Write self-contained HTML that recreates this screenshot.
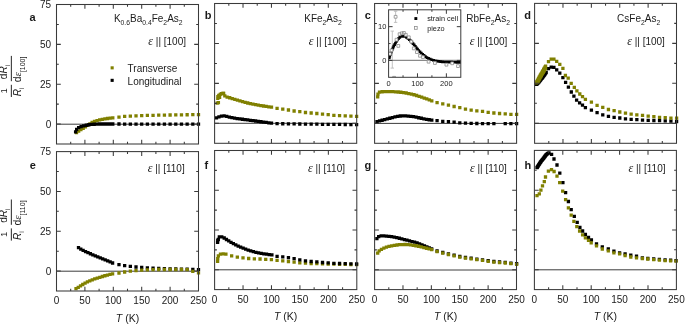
<!DOCTYPE html>
<html><head><meta charset="utf-8"><style>
html,body{margin:0;padding:0;background:#fff;}
body{width:685px;height:324px;overflow:hidden;}
svg{display:block;will-change:transform;}
</style></head><body>
<svg width="685" height="324" viewBox="0 0 685 324" font-family="Liberation Sans, sans-serif" fill="#1a1a1a">
<rect width="685" height="324" fill="#fff"/>
<line x1="56.5" y1="124.2" x2="198.5" y2="124.2" stroke="#3c3c3c" stroke-width="1"/>
<line x1="214.6" y1="123.3" x2="356.7" y2="123.3" stroke="#3c3c3c" stroke-width="1"/>
<line x1="374.6" y1="123.4" x2="516.6" y2="123.4" stroke="#3c3c3c" stroke-width="1"/>
<line x1="534.6" y1="123.4" x2="676.5" y2="123.4" stroke="#3c3c3c" stroke-width="1"/>
<line x1="56.5" y1="271.2" x2="198.5" y2="271.2" stroke="#3c3c3c" stroke-width="1"/>
<line x1="214.6" y1="269.8" x2="356.8" y2="269.8" stroke="#3c3c3c" stroke-width="1"/>
<line x1="374.6" y1="270" x2="516.5" y2="270" stroke="#3c3c3c" stroke-width="1"/>
<line x1="534.4" y1="269.8" x2="676.4" y2="269.8" stroke="#3c3c3c" stroke-width="1"/>
<path fill="#808000" d="M74.85 130.95h3.3v3.3h-3.3zM77.02 129.4h3.3v3.3h-3.3zM79.26 127.98h3.3v3.3h-3.3zM81.54 126.59h3.3v3.3h-3.3zM83.79 125.16h3.3v3.3h-3.3zM85.98 123.65h3.3v3.3h-3.3zM88.22 122.21h3.3v3.3h-3.3zM90.48 120.81h3.3v3.3h-3.3zM92.86 119.63h3.3v3.3h-3.3zM95.42 118.88h3.3v3.3h-3.3zM98.02 118.32h3.3v3.3h-3.3zM100.63 117.76h3.3v3.3h-3.3zM103.24 117.27h3.3v3.3h-3.3zM105.87 116.84h3.3v3.3h-3.3zM108.51 116.47h3.3v3.3h-3.3zM111.15 116.15h3.3v3.3h-3.3z"/>
<path fill="#808000" d="M117.33 115.45h3.3v3.3h-3.3zM123.01 114.75h3.3v3.3h-3.3zM128.69 114.4h3.3v3.3h-3.3zM134.37 114.14h3.3v3.3h-3.3zM140.05 113.95h3.3v3.3h-3.3zM145.73 113.79h3.3v3.3h-3.3zM151.41 113.66h3.3v3.3h-3.3zM157.09 113.55h3.3v3.3h-3.3zM162.77 113.45h3.3v3.3h-3.3zM168.45 113.35h3.3v3.3h-3.3zM174.13 113.26h3.3v3.3h-3.3zM179.81 113.17h3.3v3.3h-3.3zM185.49 113.09h3.3v3.3h-3.3zM191.17 113.01h3.3v3.3h-3.3zM196.85 112.95h3.3v3.3h-3.3z"/>
<path fill="#000" d="M73.95 130.15h3.3v3.3h-3.3zM75.02 127.72h3.3v3.3h-3.3zM77 125.99h3.3v3.3h-3.3zM79.45 124.93h3.3v3.3h-3.3zM82 124.17h3.3v3.3h-3.3zM84.59 123.58h3.3v3.3h-3.3zM87.21 123.1h3.3v3.3h-3.3zM89.86 122.8h3.3v3.3h-3.3zM92.51 122.6h3.3v3.3h-3.3zM95.17 122.45h3.3v3.3h-3.3zM97.83 122.35h3.3v3.3h-3.3zM100.5 122.35h3.3v3.3h-3.3zM103.16 122.35h3.3v3.3h-3.3zM105.82 122.35h3.3v3.3h-3.3zM108.49 122.35h3.3v3.3h-3.3zM111.15 122.35h3.3v3.3h-3.3z"/>
<path fill="#000" d="M117.33 122.36h3.3v3.3h-3.3zM123.01 122.38h3.3v3.3h-3.3zM128.69 122.39h3.3v3.3h-3.3zM134.37 122.4h3.3v3.3h-3.3zM140.05 122.42h3.3v3.3h-3.3zM145.73 122.43h3.3v3.3h-3.3zM151.41 122.44h3.3v3.3h-3.3zM157.09 122.46h3.3v3.3h-3.3zM162.77 122.47h3.3v3.3h-3.3zM168.45 122.48h3.3v3.3h-3.3zM174.13 122.5h3.3v3.3h-3.3zM179.81 122.51h3.3v3.3h-3.3zM185.49 122.52h3.3v3.3h-3.3zM191.17 122.54h3.3v3.3h-3.3zM196.85 122.55h3.3v3.3h-3.3z"/>
<path fill="#808000" d="M215.55 101.45h3.3v3.3h-3.3zM216.75 100.95h3.3v3.3h-3.3zM216.15 96.75h3.3v3.3h-3.3zM216.25 94.95h3.3v3.3h-3.3zM217.15 93.75h3.3v3.3h-3.3zM217.95 95.75h3.3v3.3h-3.3zM218.55 92.65h3.3v3.3h-3.3zM219.75 91.95h3.3v3.3h-3.3zM220.95 91.65h3.3v3.3h-3.3zM221.85 91.85h3.3v3.3h-3.3z"/>
<path fill="#808000" d="M221.85 91.85h3.3v3.3h-3.3zM223.16 94.17h3.3v3.3h-3.3zM225.49 95.39h3.3v3.3h-3.3zM228.07 96.12h3.3v3.3h-3.3zM230.62 96.96h3.3v3.3h-3.3zM233.17 97.79h3.3v3.3h-3.3zM235.74 98.56h3.3v3.3h-3.3zM238.31 99.3h3.3v3.3h-3.3zM240.9 100.01h3.3v3.3h-3.3zM243.5 100.69h3.3v3.3h-3.3zM246.1 101.34h3.3v3.3h-3.3zM248.7 101.96h3.3v3.3h-3.3zM251.32 102.54h3.3v3.3h-3.3zM253.95 103.06h3.3v3.3h-3.3zM256.6 103.51h3.3v3.3h-3.3zM259.25 103.93h3.3v3.3h-3.3zM261.9 104.33h3.3v3.3h-3.3zM264.55 104.74h3.3v3.3h-3.3zM267.2 105.15h3.3v3.3h-3.3zM269.85 105.55h3.3v3.3h-3.3z"/>
<path fill="#808000" d="M275.43 106.65h3.3v3.3h-3.3zM281.11 107.45h3.3v3.3h-3.3zM286.79 108.35h3.3v3.3h-3.3zM292.47 109.35h3.3v3.3h-3.3zM298.15 109.95h3.3v3.3h-3.3zM303.83 110.85h3.3v3.3h-3.3zM309.51 111.35h3.3v3.3h-3.3zM315.19 111.85h3.3v3.3h-3.3zM320.87 112.45h3.3v3.3h-3.3zM326.55 113.05h3.3v3.3h-3.3zM332.23 113.65h3.3v3.3h-3.3zM337.91 113.95h3.3v3.3h-3.3zM343.59 114.15h3.3v3.3h-3.3zM349.27 114.55h3.3v3.3h-3.3zM354.95 114.65h3.3v3.3h-3.3z"/>
<path fill="#000" d="M214.85 116.25h3.3v3.3h-3.3zM217.28 115.17h3.3v3.3h-3.3zM219.84 114.44h3.3v3.3h-3.3zM222.48 114.21h3.3v3.3h-3.3zM225.09 114.71h3.3v3.3h-3.3zM227.67 115.39h3.3v3.3h-3.3zM230.27 115.97h3.3v3.3h-3.3zM232.89 116.47h3.3v3.3h-3.3zM235.52 116.89h3.3v3.3h-3.3zM238.15 117.27h3.3v3.3h-3.3zM240.8 117.61h3.3v3.3h-3.3zM243.44 117.96h3.3v3.3h-3.3zM246.08 118.31h3.3v3.3h-3.3zM248.72 118.65h3.3v3.3h-3.3zM251.36 118.99h3.3v3.3h-3.3zM254.01 119.34h3.3v3.3h-3.3zM256.64 119.71h3.3v3.3h-3.3zM259.28 120.09h3.3v3.3h-3.3zM261.92 120.46h3.3v3.3h-3.3zM264.56 120.81h3.3v3.3h-3.3zM267.2 121.14h3.3v3.3h-3.3zM269.85 121.45h3.3v3.3h-3.3z"/>
<path fill="#000" d="M275.43 121.95h3.3v3.3h-3.3zM281.11 122.11h3.3v3.3h-3.3zM286.79 122.21h3.3v3.3h-3.3zM292.47 122.28h3.3v3.3h-3.3zM298.15 122.35h3.3v3.3h-3.3zM303.83 122.43h3.3v3.3h-3.3zM309.51 122.5h3.3v3.3h-3.3zM315.19 122.57h3.3v3.3h-3.3zM320.87 122.64h3.3v3.3h-3.3zM326.55 122.71h3.3v3.3h-3.3zM332.23 122.77h3.3v3.3h-3.3zM337.91 122.82h3.3v3.3h-3.3zM343.59 122.87h3.3v3.3h-3.3zM349.27 122.91h3.3v3.3h-3.3zM354.95 122.95h3.3v3.3h-3.3z"/>
<path fill="#808000" d="M376.05 95.15h3.3v3.3h-3.3zM376.33 92.49h3.3v3.3h-3.3zM377.83 90.47h3.3v3.3h-3.3zM380.47 90.09h3.3v3.3h-3.3zM383.15 89.99h3.3v3.3h-3.3zM385.83 89.95h3.3v3.3h-3.3zM388.51 89.97h3.3v3.3h-3.3zM391.19 90.06h3.3v3.3h-3.3zM393.87 90.17h3.3v3.3h-3.3zM396.55 90.35h3.3v3.3h-3.3zM399.22 90.59h3.3v3.3h-3.3zM401.89 90.9h3.3v3.3h-3.3zM404.53 91.35h3.3v3.3h-3.3zM407.15 91.89h3.3v3.3h-3.3zM409.77 92.47h3.3v3.3h-3.3zM412.38 93.12h3.3v3.3h-3.3zM414.96 93.84h3.3v3.3h-3.3zM417.52 94.66h3.3v3.3h-3.3zM420.05 95.54h3.3v3.3h-3.3zM422.58 96.43h3.3v3.3h-3.3zM425.11 97.32h3.3v3.3h-3.3zM427.63 98.23h3.3v3.3h-3.3zM430.15 99.15h3.3v3.3h-3.3z"/>
<path fill="#808000" d="M435.43 101.05h3.3v3.3h-3.3zM441.11 102.25h3.3v3.3h-3.3zM446.79 103.45h3.3v3.3h-3.3zM452.47 104.85h3.3v3.3h-3.3zM458.15 106.05h3.3v3.3h-3.3zM463.83 107.55h3.3v3.3h-3.3zM469.51 108.45h3.3v3.3h-3.3zM475.19 109.15h3.3v3.3h-3.3zM480.87 109.75h3.3v3.3h-3.3zM486.55 110.65h3.3v3.3h-3.3zM492.23 111.35h3.3v3.3h-3.3zM497.91 111.85h3.3v3.3h-3.3zM503.59 112.25h3.3v3.3h-3.3zM509.27 112.75h3.3v3.3h-3.3zM514.95 112.75h3.3v3.3h-3.3z"/>
<path fill="#000" d="M375.35 120.05h3.3v3.3h-3.3zM377.9 119.28h3.3v3.3h-3.3zM380.47 118.59h3.3v3.3h-3.3zM383.05 117.93h3.3v3.3h-3.3zM385.62 117.26h3.3v3.3h-3.3zM388.2 116.59h3.3v3.3h-3.3zM390.76 115.88h3.3v3.3h-3.3zM393.35 115.25h3.3v3.3h-3.3zM395.97 114.76h3.3v3.3h-3.3zM398.6 114.35h3.3v3.3h-3.3zM401.25 114.15h3.3v3.3h-3.3zM403.91 114.21h3.3v3.3h-3.3zM406.57 114.4h3.3v3.3h-3.3zM409.22 114.64h3.3v3.3h-3.3zM411.84 115.07h3.3v3.3h-3.3zM414.46 115.57h3.3v3.3h-3.3zM417.07 116.08h3.3v3.3h-3.3zM419.68 116.62h3.3v3.3h-3.3zM422.29 117.14h3.3v3.3h-3.3zM424.91 117.63h3.3v3.3h-3.3zM427.53 118.1h3.3v3.3h-3.3zM430.15 118.55h3.3v3.3h-3.3z"/>
<path fill="#000" d="M435.43 119.05h3.3v3.3h-3.3zM441.11 119.65h3.3v3.3h-3.3zM446.79 119.95h3.3v3.3h-3.3zM452.47 120.55h3.3v3.3h-3.3zM458.15 121.15h3.3v3.3h-3.3zM463.83 121.45h3.3v3.3h-3.3zM469.51 121.75h3.3v3.3h-3.3zM475.19 121.83h3.3v3.3h-3.3zM480.87 121.89h3.3v3.3h-3.3zM486.55 121.94h3.3v3.3h-3.3zM492.23 121.98h3.3v3.3h-3.3zM503.59 122.03h3.3v3.3h-3.3zM509.27 122.05h3.3v3.3h-3.3zM514.95 122.05h3.3v3.3h-3.3z"/>
<defs><clipPath id="ic"><rect x="388.6" y="9.8" width="72.2" height="67.5"/></clipPath></defs>
<rect x="388.6" y="9.8" width="72.2" height="67.5" fill="#fff"/>
<g clip-path="url(#ic)">
<line x1="388.6" y1="60.42" x2="460.8" y2="60.42" stroke="#8a8a8a" stroke-width="1.1"/>
<path fill="none" stroke="#b4b4b4" stroke-width="0.8" d="M395.6 11.3V22.4M393.9 11.3h3.4M393.9 22.4h3.4M392.3 31.1V68.1M390.6 31.1h3.4M390.6 68.1h3.4"/>
<path fill="#000" d="M387.95 56.65h2.7v2.7h-2.7zM388.41 54.91h2.7v2.7h-2.7zM388.95 53.19h2.7v2.7h-2.7zM389.56 51.49h2.7v2.7h-2.7zM390.21 49.81h2.7v2.7h-2.7zM390.89 48.14h2.7v2.7h-2.7zM391.62 46.49h2.7v2.7h-2.7zM392.39 44.86h2.7v2.7h-2.7zM393.23 43.26h2.7v2.7h-2.7zM394.12 41.69h2.7v2.7h-2.7zM395.08 40.16h2.7v2.7h-2.7zM396.07 38.66h2.7v2.7h-2.7zM397.11 37.19h2.7v2.7h-2.7zM398.44 35.98h2.7v2.7h-2.7zM400.01 35.11h2.7v2.7h-2.7zM401.8 34.98h2.7v2.7h-2.7zM403.59 35.17h2.7v2.7h-2.7zM405.17 36.02h2.7v2.7h-2.7zM406.6 37.11h2.7v2.7h-2.7zM407.96 38.29h2.7v2.7h-2.7zM409.25 39.55h2.7v2.7h-2.7zM410.5 40.86h2.7v2.7h-2.7zM411.68 42.22h2.7v2.7h-2.7zM412.84 43.6h2.7v2.7h-2.7zM413.97 45.01h2.7v2.7h-2.7zM415.05 46.45h2.7v2.7h-2.7zM416.17 47.87h2.7v2.7h-2.7zM417.37 49.21h2.7v2.7h-2.7zM418.65 50.49h2.7v2.7h-2.7zM419.97 51.71h2.7v2.7h-2.7zM421.31 52.92h2.7v2.7h-2.7zM422.66 54.11h2.7v2.7h-2.7zM424.09 55.21h2.7v2.7h-2.7zM425.61 56.18h2.7v2.7h-2.7zM427.2 57.04h2.7v2.7h-2.7zM428.85 57.77h2.7v2.7h-2.7zM430.54 58.4h2.7v2.7h-2.7zM432.26 58.93h2.7v2.7h-2.7zM434 59.41h2.7v2.7h-2.7zM435.76 59.8h2.7v2.7h-2.7zM437.54 60.07h2.7v2.7h-2.7zM439.33 60.29h2.7v2.7h-2.7zM441.13 60.48h2.7v2.7h-2.7zM442.92 60.63h2.7v2.7h-2.7zM444.72 60.73h2.7v2.7h-2.7zM446.53 60.78h2.7v2.7h-2.7zM448.33 60.82h2.7v2.7h-2.7zM450.13 60.86h2.7v2.7h-2.7zM451.94 60.89h2.7v2.7h-2.7zM453.74 60.92h2.7v2.7h-2.7zM455.54 60.93h2.7v2.7h-2.7zM457.35 60.95h2.7v2.7h-2.7zM459.15 60.95h2.7v2.7h-2.7z"/>
<path fill="#fff" stroke="#8c8c8c" stroke-width="0.8" d="M388.5 52.5h2.8v2.8h-2.8zM390.1 49h2.8v2.8h-2.8zM395.1 38.3h2.8v2.8h-2.8zM396.9 44.5h2.8v2.8h-2.8zM398.2 32.8h2.8v2.8h-2.8zM400.4 31.9h2.8v2.8h-2.8zM402.5 31.5h2.8v2.8h-2.8zM404.4 33.4h2.8v2.8h-2.8zM407.4 35.9h2.8v2.8h-2.8zM409.9 40.2h2.8v2.8h-2.8zM412.4 47h2.8v2.8h-2.8zM415.5 50.7h2.8v2.8h-2.8zM418.6 54.4h2.8v2.8h-2.8zM421.6 55.8h2.8v2.8h-2.8zM427.2 60.3h2.8v2.8h-2.8zM433.5 61.6h2.8v2.8h-2.8zM445 63.3h2.8v2.8h-2.8zM450.8 61.9h2.8v2.8h-2.8zM456.6 64.7h2.8v2.8h-2.8zM394.2 15.4h2.8v2.8h-2.8zM392.7 76.4h2.8v2.8h-2.8z"/>
</g>
<path fill="none" stroke="#3a3a3a" stroke-width="1.0" d="M403.04 9.8v2M403.04 77.3v-2M417.48 9.8v4M417.48 77.3v-4M431.92 9.8v2M431.92 77.3v-2M446.36 9.8v4M446.36 77.3v-4M388.6 60.42h4M460.8 60.42h-4M388.6 43.55h2M460.8 43.55h-2M388.6 26.67h4M460.8 26.67h-4"/>
<rect x="388.6" y="9.8" width="72.2" height="67.5" fill="none" stroke="#3a3a3a" stroke-width="1.0"/>
<rect x="414.4" y="17.1" width="2.9" height="2.9" fill="#000"/>
<rect x="414.4" y="26.5" width="2.8" height="2.8" fill="#fff" stroke="#8c8c8c" stroke-width="0.8"/>
<text x="427.2" y="20.9" font-size="7.3" text-anchor="start" font-weight="normal">strain cell</text>
<text x="427.2" y="30.7" font-size="7.3" text-anchor="start" font-weight="normal">piezo</text>
<text x="386.4" y="29.1" font-size="7.5" text-anchor="end" font-weight="normal">10</text>
<text x="386.4" y="63.4" font-size="7.5" text-anchor="end" font-weight="normal">0</text>
<text x="388.6" y="86" font-size="7.5" text-anchor="middle" font-weight="normal">0</text>
<text x="417.48" y="86" font-size="7.5" text-anchor="middle" font-weight="normal">100</text>
<text x="446.36" y="86" font-size="7.5" text-anchor="middle" font-weight="normal">200</text>
<path fill="#000" d="M534.85 82.75h3.3v3.3h-3.3zM535.54 82.16h3.3v3.3h-3.3zM536.2 81.52h3.3v3.3h-3.3zM536.84 80.86h3.3v3.3h-3.3zM537.43 80.17h3.3v3.3h-3.3zM538 79.45h3.3v3.3h-3.3zM538.56 78.72h3.3v3.3h-3.3zM539.12 78.01h3.3v3.3h-3.3zM539.7 77.3h3.3v3.3h-3.3zM540.27 76.58h3.3v3.3h-3.3zM540.84 75.86h3.3v3.3h-3.3zM541.39 75.14h3.3v3.3h-3.3zM541.94 74.41h3.3v3.3h-3.3zM542.48 73.67h3.3v3.3h-3.3zM543.01 72.92h3.3v3.3h-3.3zM543.53 72.17h3.3v3.3h-3.3zM544.05 71.41h3.3v3.3h-3.3zM544.55 70.65h3.3v3.3h-3.3zM546.85 67.05h3.3v3.3h-3.3zM549.55 65.45h3.3v3.3h-3.3zM552.25 65.75h3.3v3.3h-3.3zM555.05 68.25h3.3v3.3h-3.3zM558.15 71.55h3.3v3.3h-3.3zM561.25 76.05h3.3v3.3h-3.3zM563.95 80.65h3.3v3.3h-3.3zM566.75 85.55h3.3v3.3h-3.3zM569.65 90.35h3.3v3.3h-3.3zM572.25 94.55h3.3v3.3h-3.3zM574.95 98.45h3.3v3.3h-3.3zM577.95 101.25h3.3v3.3h-3.3zM580.85 103.55h3.3v3.3h-3.3zM583.75 105.95h3.3v3.3h-3.3zM589.75 108.45h3.3v3.3h-3.3zM595.43 111.05h3.3v3.3h-3.3zM601.11 113.25h3.3v3.3h-3.3zM606.79 114.65h3.3v3.3h-3.3zM612.47 115.75h3.3v3.3h-3.3zM618.15 116.35h3.3v3.3h-3.3zM623.83 117.15h3.3v3.3h-3.3zM629.51 117.65h3.3v3.3h-3.3zM635.19 117.95h3.3v3.3h-3.3zM640.87 118.45h3.3v3.3h-3.3zM646.55 118.75h3.3v3.3h-3.3zM652.23 118.85h3.3v3.3h-3.3zM657.91 119.05h3.3v3.3h-3.3zM663.59 119.25h3.3v3.3h-3.3zM669.27 119.45h3.3v3.3h-3.3zM674.95 119.85h3.3v3.3h-3.3z"/>
<path fill="#808000" d="M534.65 81.15h3.3v3.3h-3.3zM535.22 80.02h3.3v3.3h-3.3zM535.81 78.89h3.3v3.3h-3.3zM536.39 77.77h3.3v3.3h-3.3zM536.99 76.64h3.3v3.3h-3.3zM537.59 75.52h3.3v3.3h-3.3zM538.2 74.41h3.3v3.3h-3.3zM538.84 73.32h3.3v3.3h-3.3zM539.51 72.24h3.3v3.3h-3.3zM540.17 71.16h3.3v3.3h-3.3zM540.79 70.05h3.3v3.3h-3.3zM541.39 68.93h3.3v3.3h-3.3zM541.98 67.81h3.3v3.3h-3.3zM542.61 66.71h3.3v3.3h-3.3zM543.27 65.62h3.3v3.3h-3.3zM543.95 64.55h3.3v3.3h-3.3zM536.15 80.35h3.3v3.3h-3.3zM536.72 79.26h3.3v3.3h-3.3zM537.3 78.17h3.3v3.3h-3.3zM537.89 77.08h3.3v3.3h-3.3zM538.48 76h3.3v3.3h-3.3zM539.07 74.92h3.3v3.3h-3.3zM539.68 73.85h3.3v3.3h-3.3zM540.3 72.78h3.3v3.3h-3.3zM540.93 71.72h3.3v3.3h-3.3zM541.55 70.66h3.3v3.3h-3.3zM542.17 69.59h3.3v3.3h-3.3zM542.77 68.52h3.3v3.3h-3.3zM543.36 67.43h3.3v3.3h-3.3zM543.95 66.35h3.3v3.3h-3.3zM546.85 59.95h3.3v3.3h-3.3zM549.55 57.55h3.3v3.3h-3.3zM552.25 57.55h3.3v3.3h-3.3zM555.05 59.65h3.3v3.3h-3.3zM558.15 62.65h3.3v3.3h-3.3zM561.25 66.65h3.3v3.3h-3.3zM563.75 73.85h3.3v3.3h-3.3zM566.55 76.55h3.3v3.3h-3.3zM569.55 81.65h3.3v3.3h-3.3zM572.65 85.75h3.3v3.3h-3.3zM575.25 89.25h3.3v3.3h-3.3zM578.15 92.35h3.3v3.3h-3.3zM580.85 95.05h3.3v3.3h-3.3zM583.75 97.65h3.3v3.3h-3.3zM589.75 100.55h3.3v3.3h-3.3zM595.43 103.75h3.3v3.3h-3.3zM601.11 105.65h3.3v3.3h-3.3zM606.79 107.85h3.3v3.3h-3.3zM612.47 109.05h3.3v3.3h-3.3zM618.15 110.35h3.3v3.3h-3.3zM623.83 111.45h3.3v3.3h-3.3zM629.51 112.45h3.3v3.3h-3.3zM635.19 113.15h3.3v3.3h-3.3zM640.87 113.65h3.3v3.3h-3.3zM646.55 114.45h3.3v3.3h-3.3zM652.23 114.95h3.3v3.3h-3.3zM657.91 115.75h3.3v3.3h-3.3zM663.59 116.05h3.3v3.3h-3.3zM669.27 116.55h3.3v3.3h-3.3zM674.95 116.55h3.3v3.3h-3.3z"/>
<path fill="#000" d="M76.85 246.05h3.3v3.3h-3.3zM79.14 247.43h3.3v3.3h-3.3zM81.48 248.72h3.3v3.3h-3.3zM83.88 249.9h3.3v3.3h-3.3zM86.3 251.03h3.3v3.3h-3.3zM88.74 252.12h3.3v3.3h-3.3zM91.19 253.18h3.3v3.3h-3.3zM93.65 254.23h3.3v3.3h-3.3zM96.12 255.26h3.3v3.3h-3.3zM98.58 256.29h3.3v3.3h-3.3zM101.05 257.32h3.3v3.3h-3.3zM103.53 258.32h3.3v3.3h-3.3zM106.03 259.27h3.3v3.3h-3.3zM108.5 260.28h3.3v3.3h-3.3zM110.95 261.35h3.3v3.3h-3.3z"/>
<path fill="#000" d="M117.33 262.95h3.3v3.3h-3.3zM123.01 263.95h3.3v3.3h-3.3zM128.69 264.65h3.3v3.3h-3.3zM134.37 265.35h3.3v3.3h-3.3zM140.05 265.75h3.3v3.3h-3.3zM145.73 266.25h3.3v3.3h-3.3zM151.41 266.45h3.3v3.3h-3.3zM157.09 266.75h3.3v3.3h-3.3zM162.77 267.05h3.3v3.3h-3.3zM168.45 267.25h3.3v3.3h-3.3zM174.13 267.35h3.3v3.3h-3.3zM179.81 267.45h3.3v3.3h-3.3zM185.49 267.55h3.3v3.3h-3.3zM191.17 267.65h3.3v3.3h-3.3zM196.85 268.05h3.3v3.3h-3.3z"/>
<path fill="#808000" d="M74.35 287.05h3.3v3.3h-3.3zM76.59 285.63h3.3v3.3h-3.3zM78.85 284.24h3.3v3.3h-3.3zM81.12 282.87h3.3v3.3h-3.3zM83.42 281.54h3.3v3.3h-3.3zM85.74 280.25h3.3v3.3h-3.3zM88.14 279.13h3.3v3.3h-3.3zM90.6 278.13h3.3v3.3h-3.3zM93.1 277.25h3.3v3.3h-3.3zM95.63 276.45h3.3v3.3h-3.3zM98.17 275.68h3.3v3.3h-3.3zM100.69 274.86h3.3v3.3h-3.3zM103.23 274.08h3.3v3.3h-3.3zM105.79 273.39h3.3v3.3h-3.3zM108.36 272.74h3.3v3.3h-3.3zM110.95 272.15h3.3v3.3h-3.3z"/>
<path fill="#808000" d="M117.33 271.35h3.3v3.3h-3.3zM123.01 270.35h3.3v3.3h-3.3zM128.69 269.55h3.3v3.3h-3.3zM134.37 268.95h3.3v3.3h-3.3zM140.05 268.55h3.3v3.3h-3.3zM145.73 268.15h3.3v3.3h-3.3zM151.41 267.95h3.3v3.3h-3.3zM157.09 267.85h3.3v3.3h-3.3zM162.77 267.85h3.3v3.3h-3.3zM168.45 267.85h3.3v3.3h-3.3zM174.13 267.85h3.3v3.3h-3.3zM179.81 267.85h3.3v3.3h-3.3zM185.49 267.95h3.3v3.3h-3.3zM191.17 269.75h3.3v3.3h-3.3zM196.85 271.15h3.3v3.3h-3.3z"/>
<path fill="#808000" d="M215.95 259.65h3.3v3.3h-3.3zM216.1 256.91h3.3v3.3h-3.3zM216.72 254.24h3.3v3.3h-3.3zM218.81 252.55h3.3v3.3h-3.3zM221.53 252.18h3.3v3.3h-3.3zM224.25 252.45h3.3v3.3h-3.3z"/>
<path fill="#808000" d="M229.99 254.15h3.3v3.3h-3.3zM235.67 255.45h3.3v3.3h-3.3zM241.35 256.25h3.3v3.3h-3.3zM247.03 256.85h3.3v3.3h-3.3zM252.71 257.15h3.3v3.3h-3.3zM258.39 257.35h3.3v3.3h-3.3zM264.07 257.65h3.3v3.3h-3.3zM269.75 257.95h3.3v3.3h-3.3zM275.43 258.75h3.3v3.3h-3.3zM281.11 259.15h3.3v3.3h-3.3zM286.79 259.85h3.3v3.3h-3.3zM292.47 260.55h3.3v3.3h-3.3zM298.15 261.15h3.3v3.3h-3.3zM303.83 261.55h3.3v3.3h-3.3zM309.51 261.85h3.3v3.3h-3.3zM315.19 262.05h3.3v3.3h-3.3zM320.87 262.25h3.3v3.3h-3.3zM326.55 262.45h3.3v3.3h-3.3zM332.23 262.55h3.3v3.3h-3.3zM337.91 262.65h3.3v3.3h-3.3zM343.59 262.75h3.3v3.3h-3.3zM349.27 262.85h3.3v3.3h-3.3zM354.95 262.95h3.3v3.3h-3.3z"/>
<path fill="#000" d="M215.95 240.75h3.3v3.3h-3.3zM216.15 238.85h3.3v3.3h-3.3z"/>
<path fill="#000" d="M216.65 237.65h3.3v3.3h-3.3zM217.68 235.16h3.3v3.3h-3.3zM220.12 235.23h3.3v3.3h-3.3zM222.56 236.36h3.3v3.3h-3.3zM224.81 237.84h3.3v3.3h-3.3zM227.08 239.29h3.3v3.3h-3.3zM229.39 240.68h3.3v3.3h-3.3zM231.73 242.01h3.3v3.3h-3.3zM234.11 243.26h3.3v3.3h-3.3zM236.54 244.43h3.3v3.3h-3.3zM239 245.53h3.3v3.3h-3.3zM241.49 246.56h3.3v3.3h-3.3zM244 247.52h3.3v3.3h-3.3zM246.54 248.43h3.3v3.3h-3.3zM249.09 249.28h3.3v3.3h-3.3zM251.68 250.02h3.3v3.3h-3.3zM254.29 250.69h3.3v3.3h-3.3zM256.92 251.27h3.3v3.3h-3.3zM259.57 251.76h3.3v3.3h-3.3zM262.23 252.19h3.3v3.3h-3.3zM264.9 252.56h3.3v3.3h-3.3zM267.57 252.88h3.3v3.3h-3.3zM270.25 253.15h3.3v3.3h-3.3z"/>
<path fill="#000" d="M275.43 254.75h3.3v3.3h-3.3zM281.11 255.25h3.3v3.3h-3.3zM286.79 255.95h3.3v3.3h-3.3zM292.47 256.95h3.3v3.3h-3.3zM298.15 258.15h3.3v3.3h-3.3zM303.83 259.15h3.3v3.3h-3.3zM309.51 259.85h3.3v3.3h-3.3zM315.19 260.25h3.3v3.3h-3.3zM320.87 260.85h3.3v3.3h-3.3zM326.55 261.25h3.3v3.3h-3.3zM332.23 261.65h3.3v3.3h-3.3zM337.91 261.85h3.3v3.3h-3.3zM343.59 262.05h3.3v3.3h-3.3zM349.27 262.25h3.3v3.3h-3.3zM354.95 262.35h3.3v3.3h-3.3z"/>
<path fill="#000" d="M375.25 236.95h3.3v3.3h-3.3zM377.03 235.06h3.3v3.3h-3.3zM379.49 234.18h3.3v3.3h-3.3zM382.11 234.22h3.3v3.3h-3.3zM384.73 234.44h3.3v3.3h-3.3zM387.35 234.7h3.3v3.3h-3.3zM389.95 235.06h3.3v3.3h-3.3zM392.54 235.5h3.3v3.3h-3.3zM395.12 236h3.3v3.3h-3.3zM397.68 236.59h3.3v3.3h-3.3zM400.23 237.22h3.3v3.3h-3.3zM402.77 237.89h3.3v3.3h-3.3zM405.31 238.57h3.3v3.3h-3.3zM407.85 239.24h3.3v3.3h-3.3zM410.4 239.88h3.3v3.3h-3.3zM412.94 240.55h3.3v3.3h-3.3zM415.45 241.31h3.3v3.3h-3.3zM417.93 242.19h3.3v3.3h-3.3zM420.37 243.15h3.3v3.3h-3.3zM422.81 244.14h3.3v3.3h-3.3zM425.24 245.14h3.3v3.3h-3.3zM427.65 246.18h3.3v3.3h-3.3zM430.05 247.25h3.3v3.3h-3.3z"/>
<path fill="#000" d="M435.43 249.35h3.3v3.3h-3.3zM441.11 250.85h3.3v3.3h-3.3zM446.79 252.25h3.3v3.3h-3.3zM452.47 253.55h3.3v3.3h-3.3zM458.15 254.85h3.3v3.3h-3.3zM463.83 255.85h3.3v3.3h-3.3zM469.51 256.55h3.3v3.3h-3.3zM475.19 257.45h3.3v3.3h-3.3zM480.87 258.15h3.3v3.3h-3.3zM486.55 259.05h3.3v3.3h-3.3zM492.23 259.85h3.3v3.3h-3.3zM497.91 260.35h3.3v3.3h-3.3zM503.59 260.75h3.3v3.3h-3.3zM509.27 261.45h3.3v3.3h-3.3zM514.95 262.05h3.3v3.3h-3.3z"/>
<path fill="#808000" d="M376.05 251.45h3.3v3.3h-3.3zM377.52 249.19h3.3v3.3h-3.3zM379.77 247.68h3.3v3.3h-3.3zM382.23 246.54h3.3v3.3h-3.3zM384.76 245.57h3.3v3.3h-3.3zM387.37 244.82h3.3v3.3h-3.3zM390.02 244.23h3.3v3.3h-3.3zM392.69 243.75h3.3v3.3h-3.3zM395.37 243.34h3.3v3.3h-3.3zM398.06 243.02h3.3v3.3h-3.3zM400.78 242.89h3.3v3.3h-3.3zM403.49 242.85h3.3v3.3h-3.3zM406.2 243.02h3.3v3.3h-3.3zM408.89 243.31h3.3v3.3h-3.3zM411.59 243.65h3.3v3.3h-3.3zM414.26 244.08h3.3v3.3h-3.3zM416.93 244.61h3.3v3.3h-3.3zM419.57 245.24h3.3v3.3h-3.3zM422.2 245.91h3.3v3.3h-3.3zM424.82 246.59h3.3v3.3h-3.3zM427.44 247.3h3.3v3.3h-3.3zM430.05 248.05h3.3v3.3h-3.3z"/>
<path fill="#808000" d="M435.43 249.95h3.3v3.3h-3.3zM441.11 251.45h3.3v3.3h-3.3zM446.79 252.85h3.3v3.3h-3.3zM452.47 254.15h3.3v3.3h-3.3zM458.15 255.45h3.3v3.3h-3.3zM463.83 256.45h3.3v3.3h-3.3zM469.51 257.15h3.3v3.3h-3.3zM475.19 258.05h3.3v3.3h-3.3zM480.87 258.75h3.3v3.3h-3.3zM486.55 259.65h3.3v3.3h-3.3zM492.23 260.45h3.3v3.3h-3.3zM497.91 260.95h3.3v3.3h-3.3zM503.59 261.35h3.3v3.3h-3.3zM509.27 262.05h3.3v3.3h-3.3zM514.95 262.65h3.3v3.3h-3.3z"/>
<path fill="#000" d="M535.35 166.05h3.3v3.3h-3.3zM535.77 165.36h3.3v3.3h-3.3zM536.19 164.68h3.3v3.3h-3.3zM536.62 163.99h3.3v3.3h-3.3zM537.05 163.31h3.3v3.3h-3.3zM537.49 162.64h3.3v3.3h-3.3zM537.92 161.96h3.3v3.3h-3.3zM538.36 161.28h3.3v3.3h-3.3zM538.81 160.61h3.3v3.3h-3.3zM539.28 159.95h3.3v3.3h-3.3zM539.76 159.31h3.3v3.3h-3.3zM540.27 158.68h3.3v3.3h-3.3zM540.78 158.06h3.3v3.3h-3.3zM541.29 157.43h3.3v3.3h-3.3zM541.77 156.79h3.3v3.3h-3.3zM542.24 156.14h3.3v3.3h-3.3zM542.71 155.48h3.3v3.3h-3.3zM543.2 154.84h3.3v3.3h-3.3zM543.7 154.21h3.3v3.3h-3.3zM544.2 153.57h3.3v3.3h-3.3zM544.72 152.96h3.3v3.3h-3.3zM545.29 152.4h3.3v3.3h-3.3zM545.94 151.91h3.3v3.3h-3.3zM546.62 151.48h3.3v3.3h-3.3zM547.35 151.15h3.3v3.3h-3.3zM549.95 152.75h3.3v3.3h-3.3zM552.35 157.35h3.3v3.3h-3.3zM555.35 163.35h3.3v3.3h-3.3zM558.15 171.55h3.3v3.3h-3.3zM561.25 181.05h3.3v3.3h-3.3zM563.95 190.95h3.3v3.3h-3.3zM566.75 199.85h3.3v3.3h-3.3zM569.55 207.95h3.3v3.3h-3.3zM572.65 214.75h3.3v3.3h-3.3zM575.55 220.75h3.3v3.3h-3.3zM578.25 225.65h3.3v3.3h-3.3zM580.95 229.35h3.3v3.3h-3.3zM583.75 232.85h3.3v3.3h-3.3zM586.85 235.85h3.3v3.3h-3.3zM589.75 238.35h3.3v3.3h-3.3zM594.85 242.35h3.3v3.3h-3.3zM600.65 245.25h3.3v3.3h-3.3zM606.65 247.35h3.3v3.3h-3.3zM612.25 249.55h3.3v3.3h-3.3zM617.95 251.15h3.3v3.3h-3.3zM623.45 252.25h3.3v3.3h-3.3zM629.15 253.55h3.3v3.3h-3.3zM634.85 254.55h3.3v3.3h-3.3zM640.75 256.15h3.3v3.3h-3.3zM646.15 256.85h3.3v3.3h-3.3zM652.05 257.35h3.3v3.3h-3.3zM657.75 257.65h3.3v3.3h-3.3zM663.45 258.15h3.3v3.3h-3.3zM668.95 258.45h3.3v3.3h-3.3zM674.35 258.95h3.3v3.3h-3.3z"/>
<path fill="#808000" d="M535.35 193.95h3.3v3.3h-3.3zM537.65 192.15h3.3v3.3h-3.3zM539.25 188.55h3.3v3.3h-3.3zM540.85 184.15h3.3v3.3h-3.3zM542.65 179.95h3.3v3.3h-3.3zM543.85 175.35h3.3v3.3h-3.3zM546.75 169.55h3.3v3.3h-3.3zM549.85 167.95h3.3v3.3h-3.3zM552.45 169.85h3.3v3.3h-3.3zM555.35 174.55h3.3v3.3h-3.3zM558.05 181.05h3.3v3.3h-3.3zM561.05 189.45h3.3v3.3h-3.3zM563.95 197.95h3.3v3.3h-3.3zM566.75 206.15h3.3v3.3h-3.3zM569.55 213.45h3.3v3.3h-3.3zM572.25 219.65h3.3v3.3h-3.3zM575.15 225.05h3.3v3.3h-3.3zM577.95 229.35h3.3v3.3h-3.3zM580.95 233.15h3.3v3.3h-3.3zM583.75 236.15h3.3v3.3h-3.3zM586.85 238.65h3.3v3.3h-3.3zM589.55 241.15h3.3v3.3h-3.3zM594.85 244.25h3.3v3.3h-3.3zM600.65 247.35h3.3v3.3h-3.3zM606.65 249.15h3.3v3.3h-3.3zM612.25 251.15h3.3v3.3h-3.3zM617.95 252.25h3.3v3.3h-3.3zM623.45 253.85h3.3v3.3h-3.3zM629.15 255.35h3.3v3.3h-3.3zM634.85 256.15h3.3v3.3h-3.3zM640.75 256.85h3.3v3.3h-3.3zM646.15 257.35h3.3v3.3h-3.3zM652.05 257.95h3.3v3.3h-3.3zM657.75 258.45h3.3v3.3h-3.3zM663.45 258.95h3.3v3.3h-3.3zM668.95 259.25h3.3v3.3h-3.3zM674.35 259.55h3.3v3.3h-3.3z"/>
<path fill="none" stroke="#3a3a3a" stroke-width="1.05" d="M70.7 4.5v2.3M70.7 144v-2.3M84.9 4.5v4.3M84.9 144v-4.3M99.1 4.5v2.3M99.1 144v-2.3M113.3 4.5v4.3M113.3 144v-4.3M127.5 4.5v2.3M127.5 144v-2.3M141.7 4.5v4.3M141.7 144v-4.3M155.9 4.5v2.3M155.9 144v-2.3M170.1 4.5v4.3M170.1 144v-4.3M184.3 4.5v2.3M184.3 144v-2.3M56.5 124.07h4.3M198.5 124.07h-4.3M56.5 104.14h2.3M198.5 104.14h-2.3M56.5 84.21h4.3M198.5 84.21h-4.3M56.5 64.29h2.3M198.5 64.29h-2.3M56.5 44.36h4.3M198.5 44.36h-4.3M56.5 24.43h2.3M198.5 24.43h-2.3"/>
<rect x="56.5" y="4.5" width="142" height="139.5" fill="none" stroke="#3a3a3a" stroke-width="1.05"/>
<path fill="none" stroke="#3a3a3a" stroke-width="1.05" d="M228.81 3.5v2.3M228.81 143.3v-2.3M243.02 3.5v4.3M243.02 143.3v-4.3M257.23 3.5v2.3M257.23 143.3v-2.3M271.44 3.5v4.3M271.44 143.3v-4.3M285.65 3.5v2.3M285.65 143.3v-2.3M299.86 3.5v4.3M299.86 143.3v-4.3M314.07 3.5v2.3M314.07 143.3v-2.3M328.28 3.5v4.3M328.28 143.3v-4.3M342.49 3.5v2.3M342.49 143.3v-2.3M214.6 123.33h4.3M356.7 123.33h-4.3M214.6 103.36h2.3M356.7 103.36h-2.3M214.6 83.39h4.3M356.7 83.39h-4.3M214.6 63.41h2.3M356.7 63.41h-2.3M214.6 43.44h4.3M356.7 43.44h-4.3M214.6 23.47h2.3M356.7 23.47h-2.3"/>
<rect x="214.6" y="3.5" width="142.1" height="139.8" fill="none" stroke="#3a3a3a" stroke-width="1.05"/>
<path fill="none" stroke="#3a3a3a" stroke-width="1.05" d="M388.8 3.5v2.3M388.8 143.3v-2.3M403 3.5v4.3M403 143.3v-4.3M417.2 3.5v2.3M417.2 143.3v-2.3M431.4 3.5v4.3M431.4 143.3v-4.3M445.6 3.5v2.3M445.6 143.3v-2.3M459.8 3.5v4.3M459.8 143.3v-4.3M474 3.5v2.3M474 143.3v-2.3M488.2 3.5v4.3M488.2 143.3v-4.3M502.4 3.5v2.3M502.4 143.3v-2.3M374.6 123.33h4.3M516.6 123.33h-4.3M374.6 103.36h2.3M516.6 103.36h-2.3M374.6 83.39h4.3M516.6 83.39h-4.3M374.6 63.41h2.3M516.6 63.41h-2.3M374.6 43.44h4.3M516.6 43.44h-4.3M374.6 23.47h2.3M516.6 23.47h-2.3"/>
<rect x="374.6" y="3.5" width="142" height="139.8" fill="none" stroke="#3a3a3a" stroke-width="1.05"/>
<path fill="none" stroke="#3a3a3a" stroke-width="1.05" d="M548.79 3.4v2.3M548.79 143.3v-2.3M562.98 3.4v4.3M562.98 143.3v-4.3M577.17 3.4v2.3M577.17 143.3v-2.3M591.36 3.4v4.3M591.36 143.3v-4.3M605.55 3.4v2.3M605.55 143.3v-2.3M619.74 3.4v4.3M619.74 143.3v-4.3M633.93 3.4v2.3M633.93 143.3v-2.3M648.12 3.4v4.3M648.12 143.3v-4.3M662.31 3.4v2.3M662.31 143.3v-2.3M534.6 123.31h4.3M676.5 123.31h-4.3M534.6 103.33h2.3M676.5 103.33h-2.3M534.6 83.34h4.3M676.5 83.34h-4.3M534.6 63.36h2.3M676.5 63.36h-2.3M534.6 43.37h4.3M676.5 43.37h-4.3M534.6 23.39h2.3M676.5 23.39h-2.3"/>
<rect x="534.6" y="3.4" width="141.9" height="139.9" fill="none" stroke="#3a3a3a" stroke-width="1.05"/>
<path fill="none" stroke="#3a3a3a" stroke-width="1.05" d="M70.7 151.6v2.3M70.7 291v-2.3M84.9 151.6v4.3M84.9 291v-4.3M99.1 151.6v2.3M99.1 291v-2.3M113.3 151.6v4.3M113.3 291v-4.3M127.5 151.6v2.3M127.5 291v-2.3M141.7 151.6v4.3M141.7 291v-4.3M155.9 151.6v2.3M155.9 291v-2.3M170.1 151.6v4.3M170.1 291v-4.3M184.3 151.6v2.3M184.3 291v-2.3M56.5 271.09h4.3M198.5 271.09h-4.3M56.5 251.17h2.3M198.5 251.17h-2.3M56.5 231.26h4.3M198.5 231.26h-4.3M56.5 211.34h2.3M198.5 211.34h-2.3M56.5 191.43h4.3M198.5 191.43h-4.3M56.5 171.51h2.3M198.5 171.51h-2.3"/>
<rect x="56.5" y="151.6" width="142" height="139.4" fill="none" stroke="#3a3a3a" stroke-width="1.05"/>
<path fill="none" stroke="#3a3a3a" stroke-width="1.05" d="M228.82 150.5v2.3M228.82 289.6v-2.3M243.04 150.5v4.3M243.04 289.6v-4.3M257.26 150.5v2.3M257.26 289.6v-2.3M271.48 150.5v4.3M271.48 289.6v-4.3M285.7 150.5v2.3M285.7 289.6v-2.3M299.92 150.5v4.3M299.92 289.6v-4.3M314.14 150.5v2.3M314.14 289.6v-2.3M328.36 150.5v4.3M328.36 289.6v-4.3M342.58 150.5v2.3M342.58 289.6v-2.3M214.6 269.73h4.3M356.8 269.73h-4.3M214.6 249.86h2.3M356.8 249.86h-2.3M214.6 229.99h4.3M356.8 229.99h-4.3M214.6 210.11h2.3M356.8 210.11h-2.3M214.6 190.24h4.3M356.8 190.24h-4.3M214.6 170.37h2.3M356.8 170.37h-2.3"/>
<rect x="214.6" y="150.5" width="142.2" height="139.1" fill="none" stroke="#3a3a3a" stroke-width="1.05"/>
<path fill="none" stroke="#3a3a3a" stroke-width="1.05" d="M388.79 150.5v2.3M388.79 289.6v-2.3M402.98 150.5v4.3M402.98 289.6v-4.3M417.17 150.5v2.3M417.17 289.6v-2.3M431.36 150.5v4.3M431.36 289.6v-4.3M445.55 150.5v2.3M445.55 289.6v-2.3M459.74 150.5v4.3M459.74 289.6v-4.3M473.93 150.5v2.3M473.93 289.6v-2.3M488.12 150.5v4.3M488.12 289.6v-4.3M502.31 150.5v2.3M502.31 289.6v-2.3M374.6 269.73h4.3M516.5 269.73h-4.3M374.6 249.86h2.3M516.5 249.86h-2.3M374.6 229.99h4.3M516.5 229.99h-4.3M374.6 210.11h2.3M516.5 210.11h-2.3M374.6 190.24h4.3M516.5 190.24h-4.3M374.6 170.37h2.3M516.5 170.37h-2.3"/>
<rect x="374.6" y="150.5" width="141.9" height="139.1" fill="none" stroke="#3a3a3a" stroke-width="1.05"/>
<path fill="none" stroke="#3a3a3a" stroke-width="1.05" d="M548.6 150.4v2.3M548.6 289.6v-2.3M562.8 150.4v4.3M562.8 289.6v-4.3M577 150.4v2.3M577 289.6v-2.3M591.2 150.4v4.3M591.2 289.6v-4.3M605.4 150.4v2.3M605.4 289.6v-2.3M619.6 150.4v4.3M619.6 289.6v-4.3M633.8 150.4v2.3M633.8 289.6v-2.3M648 150.4v4.3M648 289.6v-4.3M662.2 150.4v2.3M662.2 289.6v-2.3M534.4 269.71h4.3M676.4 269.71h-4.3M534.4 249.83h2.3M676.4 249.83h-2.3M534.4 229.94h4.3M676.4 229.94h-4.3M534.4 210.06h2.3M676.4 210.06h-2.3M534.4 190.17h4.3M676.4 190.17h-4.3M534.4 170.29h2.3M676.4 170.29h-2.3"/>
<rect x="534.4" y="150.4" width="142" height="139.2" fill="none" stroke="#3a3a3a" stroke-width="1.05"/>
<text x="51.2" y="8.1" font-size="10" text-anchor="end" font-weight="normal">75</text>
<text x="51.2" y="47.96" font-size="10" text-anchor="end" font-weight="normal">50</text>
<text x="51.2" y="87.81" font-size="10" text-anchor="end" font-weight="normal">25</text>
<text x="51.2" y="127.67" font-size="10" text-anchor="end" font-weight="normal">0</text>
<text x="51.2" y="155.2" font-size="10" text-anchor="end" font-weight="normal">75</text>
<text x="51.2" y="195.03" font-size="10" text-anchor="end" font-weight="normal">50</text>
<text x="51.2" y="234.86" font-size="10" text-anchor="end" font-weight="normal">25</text>
<text x="51.2" y="274.69" font-size="10" text-anchor="end" font-weight="normal">0</text>
<text x="56.5" y="304" font-size="10" text-anchor="middle" font-weight="normal">0</text>
<text x="84.9" y="304" font-size="10" text-anchor="middle" font-weight="normal">50</text>
<text x="113.3" y="304" font-size="10" text-anchor="middle" font-weight="normal">100</text>
<text x="141.7" y="304" font-size="10" text-anchor="middle" font-weight="normal">150</text>
<text x="170.1" y="304" font-size="10" text-anchor="middle" font-weight="normal">200</text>
<text x="198.5" y="304" font-size="10" text-anchor="middle" font-weight="normal">250</text>
<text x="127.5" y="321.5" font-size="10.5" text-anchor="middle"><tspan font-style="italic">T</tspan> (K)</text>
<text x="214.6" y="303.1" font-size="10" text-anchor="middle" font-weight="normal">0</text>
<text x="243.04" y="303.1" font-size="10" text-anchor="middle" font-weight="normal">50</text>
<text x="271.48" y="303.1" font-size="10" text-anchor="middle" font-weight="normal">100</text>
<text x="299.92" y="303.1" font-size="10" text-anchor="middle" font-weight="normal">150</text>
<text x="328.36" y="303.1" font-size="10" text-anchor="middle" font-weight="normal">200</text>
<text x="356.8" y="303.1" font-size="10" text-anchor="middle" font-weight="normal">250</text>
<text x="285.7" y="320.3" font-size="10.5" text-anchor="middle"><tspan font-style="italic">T</tspan> (K)</text>
<text x="374.6" y="303.1" font-size="10" text-anchor="middle" font-weight="normal">0</text>
<text x="402.98" y="303.1" font-size="10" text-anchor="middle" font-weight="normal">50</text>
<text x="431.36" y="303.1" font-size="10" text-anchor="middle" font-weight="normal">100</text>
<text x="459.74" y="303.1" font-size="10" text-anchor="middle" font-weight="normal">150</text>
<text x="488.12" y="303.1" font-size="10" text-anchor="middle" font-weight="normal">200</text>
<text x="516.5" y="303.1" font-size="10" text-anchor="middle" font-weight="normal">250</text>
<text x="445.55" y="320.3" font-size="10.5" text-anchor="middle"><tspan font-style="italic">T</tspan> (K)</text>
<text x="534.4" y="303.1" font-size="10" text-anchor="middle" font-weight="normal">0</text>
<text x="562.8" y="303.1" font-size="10" text-anchor="middle" font-weight="normal">50</text>
<text x="591.2" y="303.1" font-size="10" text-anchor="middle" font-weight="normal">100</text>
<text x="619.6" y="303.1" font-size="10" text-anchor="middle" font-weight="normal">150</text>
<text x="648" y="303.1" font-size="10" text-anchor="middle" font-weight="normal">200</text>
<text x="676.4" y="303.1" font-size="10" text-anchor="middle" font-weight="normal">250</text>
<text x="605.4" y="320.3" font-size="10.5" text-anchor="middle"><tspan font-style="italic">T</tspan> (K)</text>
<text x="29.6" y="20.8" font-size="11" text-anchor="start" font-weight="bold">a</text>
<text x="204.8" y="19.1" font-size="11" text-anchor="start" font-weight="bold">b</text>
<text x="364.8" y="19.1" font-size="11" text-anchor="start" font-weight="bold">c</text>
<text x="524.2" y="19.1" font-size="11" text-anchor="start" font-weight="bold">d</text>
<text x="29.8" y="168.8" font-size="11" text-anchor="start" font-weight="bold">e</text>
<text x="204.6" y="168.6" font-size="11" text-anchor="start" font-weight="bold">f</text>
<text x="364.6" y="168.8" font-size="11" text-anchor="start" font-weight="bold">g</text>
<text x="524.6" y="168.8" font-size="11" text-anchor="start" font-weight="bold">h</text>
<text x="182.6" y="21.9" font-size="10" text-anchor="end"><tspan>K</tspan><tspan font-size="6.8" dy="2.7">0.6</tspan><tspan font-size="10" dy="-2.7">Ba</tspan><tspan font-size="6.8" dy="2.7">0.4</tspan><tspan font-size="10" dy="-2.7">Fe</tspan><tspan font-size="6.8" dy="2.7">2</tspan><tspan font-size="10" dy="-2.7">As</tspan><tspan font-size="6.8" dy="2.7">2</tspan></text>
<text x="341.8" y="21.9" font-size="10" text-anchor="end"><tspan>KFe</tspan><tspan font-size="6.8" dy="2.7">2</tspan><tspan font-size="10" dy="-2.7">As</tspan><tspan font-size="6.8" dy="2.7">2</tspan></text>
<text x="510" y="21.9" font-size="10" text-anchor="end"><tspan>RbFe</tspan><tspan font-size="6.8" dy="2.7">2</tspan><tspan font-size="10" dy="-2.7">As</tspan><tspan font-size="6.8" dy="2.7">2</tspan></text>
<text x="660.2" y="21.9" font-size="10" text-anchor="end"><tspan>CsFe</tspan><tspan font-size="6.8" dy="2.7">2</tspan><tspan font-size="10" dy="-2.7">As</tspan><tspan font-size="6.8" dy="2.7">2</tspan></text>
<text x="186" y="44.6" font-size="10" text-anchor="end"><tspan font-family="Liberation Serif, serif" font-style="italic" font-size="12">&#949;</tspan> || [100]</text>
<text x="346.6" y="44.6" font-size="10" text-anchor="end"><tspan font-family="Liberation Serif, serif" font-style="italic" font-size="12">&#949;</tspan> || [100]</text>
<text x="507.4" y="44.6" font-size="10" text-anchor="end"><tspan font-family="Liberation Serif, serif" font-style="italic" font-size="12">&#949;</tspan> || [100]</text>
<text x="664.9" y="44.6" font-size="10" text-anchor="end"><tspan font-family="Liberation Serif, serif" font-style="italic" font-size="12">&#949;</tspan> || [100]</text>
<text x="184.7" y="171.8" font-size="10" text-anchor="end"><tspan font-family="Liberation Serif, serif" font-style="italic" font-size="12">&#949;</tspan> || [110]</text>
<text x="345" y="171.6" font-size="10" text-anchor="end"><tspan font-family="Liberation Serif, serif" font-style="italic" font-size="12">&#949;</tspan> || [110]</text>
<text x="506.9" y="171.6" font-size="10" text-anchor="end"><tspan font-family="Liberation Serif, serif" font-style="italic" font-size="12">&#949;</tspan> || [110]</text>
<text x="665.5" y="171.8" font-size="10" text-anchor="end"><tspan font-family="Liberation Serif, serif" font-style="italic" font-size="12">&#949;</tspan> || [110]</text>
<rect x="110.6" y="66.3" width="3.1" height="3.1" fill="#808000"/>
<rect x="110.6" y="78.8" width="3.1" height="3.1" fill="#000"/>
<text x="127.6" y="72" font-size="10" text-anchor="start" font-weight="normal">Transverse</text>
<text x="127.6" y="84.5" font-size="10" text-anchor="start" font-weight="normal">Longitudinal</text>
<text transform="translate(7.4,90.8) rotate(-90)" font-size="9.6" text-anchor="middle">1</text>
<line x1="11.35" y1="84.8" x2="11.35" y2="97" stroke="#1a1a1a" stroke-width="0.95"/>
<text transform="translate(20.9,91.9) rotate(-90)" font-size="10" text-anchor="middle"><tspan font-style="italic">R</tspan><tspan font-size="7" dy="2.6">i</tspan></text>
<line x1="11.35" y1="55.9" x2="11.35" y2="81.2" stroke="#1a1a1a" stroke-width="0.95"/>
<text transform="translate(7.3,72) rotate(-90)" font-size="10" text-anchor="middle">d<tspan font-style="italic">R</tspan><tspan font-size="7" dy="2.6">i</tspan></text>
<text transform="translate(21.3,69.4) rotate(-90)" font-size="10.4" text-anchor="middle">d<tspan font-family="Liberation Serif, serif" font-style="italic" font-size="11">&#949;</tspan><tspan font-size="7" dy="3.2">[100]</tspan></text>
<text transform="translate(7.4,234.4) rotate(-90)" font-size="9.6" text-anchor="middle">1</text>
<line x1="11.35" y1="228.4" x2="11.35" y2="240.6" stroke="#1a1a1a" stroke-width="0.95"/>
<text transform="translate(20.9,235.5) rotate(-90)" font-size="10" text-anchor="middle"><tspan font-style="italic">R</tspan><tspan font-size="7" dy="2.6">i</tspan></text>
<line x1="11.35" y1="199.5" x2="11.35" y2="224.8" stroke="#1a1a1a" stroke-width="0.95"/>
<text transform="translate(7.3,215.6) rotate(-90)" font-size="10" text-anchor="middle">d<tspan font-style="italic">R</tspan><tspan font-size="7" dy="2.6">i</tspan></text>
<text transform="translate(21.3,213) rotate(-90)" font-size="10.4" text-anchor="middle">d<tspan font-family="Liberation Serif, serif" font-style="italic" font-size="11">&#949;</tspan><tspan font-size="7" dy="3.2">[110]</tspan></text>
</svg>
</body></html>
